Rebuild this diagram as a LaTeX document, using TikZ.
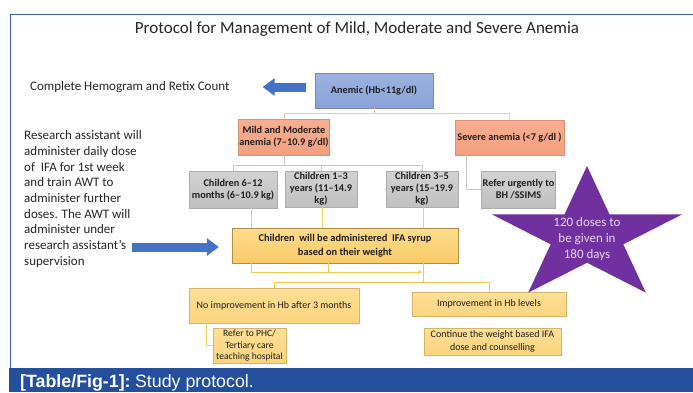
\documentclass[tikz,border=0pt]{standalone}
\usepackage{fontspec}
\setmainfont{Carlito}
\newfontfamily\capfont{Liberation Sans}
\usetikzlibrary{arrows.meta,calc}
\definecolor{frameblue}{HTML}{3A5DAE}
\definecolor{capblue}{HTML}{244F9C}
\definecolor{arrowblue}{HTML}{4472C4}
\definecolor{starpurple}{HTML}{7030A0}
\definecolor{startext}{HTML}{E4D6F0}
\definecolor{bluetop}{HTML}{9BB3E2}
\definecolor{bluebot}{HTML}{8AA2D8}
\definecolor{salmtop}{HTML}{F7AE90}
\definecolor{salmbot}{HTML}{F3A080}
\definecolor{graytop}{HTML}{D2D2D2}
\definecolor{graybot}{HTML}{C0C0C0}
\definecolor{yeltop}{HTML}{FEDC8C}
\definecolor{yelbot}{HTML}{FACB68}
\definecolor{ltyeltop}{HTML}{FEDF95}
\definecolor{ltyelbot}{HTML}{FBD47E}
\definecolor{orangeln}{HTML}{F2C8A6}
\definecolor{grayln}{HTML}{C8C8C8}
\definecolor{yelln}{HTML}{EBD95A}
\definecolor{goldln}{HTML}{F0C84A}
\begin{document}
\begin{tikzpicture}[x=1pt,y=-1pt,
  box/.style={rectangle, inner sep=1pt, align=center, text=black!88,
    font=\fontsize{10.3}{12}\selectfont\bfseries},
  bluebox/.style={box, top color=bluetop, bottom color=bluebot, draw=bluebot!85!black},
  salmbox/.style={box, top color=salmtop, bottom color=salmbot, draw=salmbot!90!black},
  graybox/.style={box, top color=graytop, bottom color=graybot, draw=graybot!90!black},
  ifabox/.style={box, top color=yeltop, bottom color=yelbot, draw=yelbot!70!black,
    font=\fontsize{10.4}{14}\selectfont\bfseries},
  outbox/.style={box, top color=ltyeltop, bottom color=ltyelbot, draw=ltyelbot!85!black,
    font=\fontsize{10}{12.5}\selectfont},
  orangeline/.style={draw=orangeln, line width=0.9pt},
  grayline/.style={draw=grayln, line width=0.9pt},
  yelline/.style={draw=yelln, line width=0.9pt},
  goldline/.style={draw=goldln, line width=0.9pt},
  bluearrow/.style={draw=arrowblue, line width=9pt,
    -{Triangle[length=12pt,width=17pt]}},
  plaintext/.style={inner sep=0pt, text=black!85}
]
\useasboundingbox (0,0) rectangle (693,392);
\fill[white] (0,0) rectangle (693,392);
% frame
\draw[frameblue, line width=1pt] (10,368) -- (10,14) -- (693,14);
% caption bar
\fill[capblue] (9,368) rectangle (693,392);
\node[anchor=base west, inner sep=0pt, text=white, font=\capfont\fontsize{17.8}{20}\selectfont]
  (caption) at (20,387.5) {\bfseries [Table/Fig-1]:\hspace{4.5pt}\mdseries Study protocol.};
% title
\node[plaintext, font=\fontsize{17}{20}\selectfont] (title) at (357,29)
  {Protocol for Management of Mild, Moderate and Severe Anemia};
% left texts
\node[plaintext, anchor=west, font=\fontsize{13}{15}\selectfont] (hemo) at (30,87)
  {Complete Hemogram and Retix Count};
\node[plaintext, anchor=west, align=left, font=\fontsize{13}{15.7}\selectfont] (research) at (24,199)
  {Research assistant will\\administer daily dose\\of\ \ IFA for 1st week\\and train AWT to\\administer further\\doses. The AWT will\\administer under\\research assistant’s\\supervision};
% boxes
\node[bluebox, minimum width=118pt, minimum height=35pt] (anemic) at (374,90.5) {Anemic (Hb<11g/dl)};
\node[salmbox, minimum width=90pt, minimum height=36pt] (mild) at (284,137) {Mild and Moderate\\anemia (7–10.9 g/dl)};
\node[salmbox, minimum width=109pt, minimum height=35pt] (severe) at (509.5,137.5) {Severe anemia (<7 g/dl )};
\node[graybox, minimum width=88pt, minimum height=37pt] (c612) at (233,189.5) {Children 6–12\\months (6–10.9 kg)};
\node[graybox, minimum width=72pt, minimum height=36pt] (c13) at (321,189) {Children 1–3\\years (11–14.9\\kg)};
\node[graybox, minimum width=72pt, minimum height=36pt] (c35) at (422,189) {Children 3–5\\years (15–19.9\\kg)};
\node[graybox, minimum width=71pt, minimum height=37pt] (refer) at (518.5,189.5) {Refer urgently to\\BH /SSIMS};
\node[ifabox, minimum width=226pt, minimum height=35pt] (ifa) at (345,245.5) {Children\ \ will be administered\ \ IFA syrup\\based on their weight};
\node[outbox, minimum width=170pt, minimum height=35pt] (noimp) at (274,305.5) {No improvement in Hb after 3 months};
\node[outbox, minimum width=154pt, minimum height=24pt] (imp) at (489,304) {Improvement in Hb levels};
\node[outbox, minimum width=73pt, minimum height=35pt, font=\fontsize{9.6}{11.5}\selectfont] (phc) at (249.5,345.5) {Refer to PHC/\\Tertiary care\\teaching hospital};
\node[outbox, minimum width=137pt, minimum height=27pt, font=\fontsize{10}{12.5}\selectfont] (cont) at (492.5,341.5) {Continue the weight based IFA\\dose and counselling};
% star
\fill[starpurple] (587,166) -- (609.5,214.4) -- (682.1,214.4) -- (623.3,244.3) -- (645.8,292.6)
  -- (587,262.7) -- (528.2,292.6) -- (550.7,244.3) -- (491.9,214.4) -- (564.5,214.4) -- cycle;
\node[plaintext, text=startext, align=center, font=\fontsize{13}{15.6}\selectfont] (startxt) at (587,239)
  {120 doses to\\be given in\\180 days};
% connectors
\draw[orangeline] (anemic.south) -- ++(0,5) -| (mild.north);
\draw[orangeline] (anemic.south) -- ++(0,5) -| (severe.north);
\draw[grayline] (mild.south) -- ++(0,10) -| (c612.north);
\draw[grayline] (mild.south) -- ++(0,10) -| (c13.north);
\draw[grayline] (mild.south) -- ++(0,10) -| (c35.north);
\draw[grayline] ($(severe.south west)+(12,0)$) |- (refer.west);
\draw[yelline] ($(c612.south)+(18,0)$) coordinate (y1) -- (y1 |- ifa.north);
\draw[yelline] ($(c13.south)+(1,0)$) coordinate (y2) -- (y2 |- ifa.north);
\draw[yelline] ($(c35.south)+(1,0)$) coordinate (y3) -- (y3 |- ifa.north);
\coordinate (mrg) at (422,272);
\coordinate (split) at (423,282);
\draw[goldline, -{Stealth[length=4pt,width=4pt]}] ($(ifa.south west)+(20,0)$) |- (mrg);
\draw[goldline] ($(ifa.south west)+(97,0)$) -- ++(0,9);
\draw[goldline] (split |- ifa.south) -- (split);
\draw[goldline] (split) -| (noimp.north);
\draw[goldline] (split) -| (imp.north);
\draw[yelline] ($(noimp.south west)+(18,0)$) |- (phc.west);
% blue arrows
\draw[bluearrow, shorten >=33pt, shorten <=9pt] (anemic.west |- hemo.east) -- (hemo.east);
\coordinate (rstart) at (132,247);
\draw[bluearrow, shorten >=13pt] (rstart) -- (rstart -| ifa.west);
\end{tikzpicture}
\end{document}
